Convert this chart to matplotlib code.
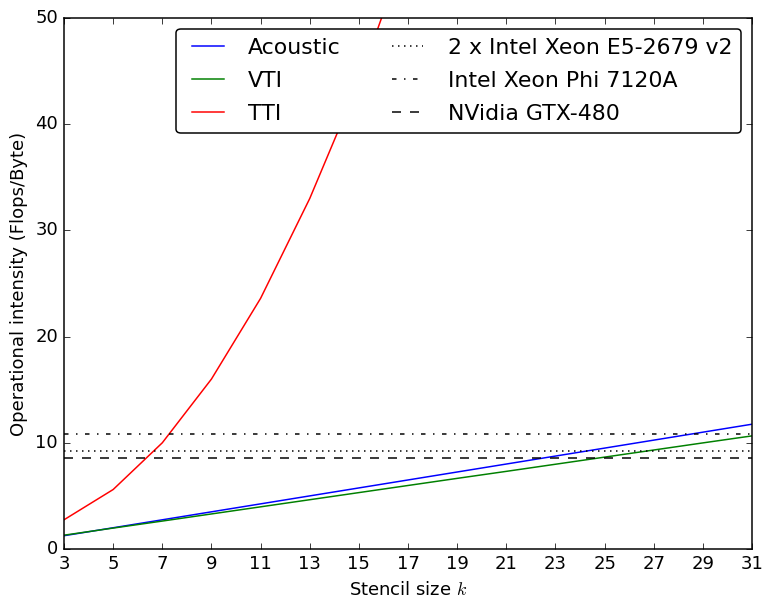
import numpy as np
import matplotlib
matplotlib.use('Agg')
import matplotlib.pyplot as plt

plt.style.use('classic')

# Taille du stencil
k = [3, 5, 7, 9, 11, 13, 15, 17, 19, 21, 23, 25, 27, 29, 31]
k_tti = [3, 5, 7, 9, 11, 13, 15, 17]

# Intensite operationnelle (Flops/Byte)
acoustic = [1.25, 2.0, 2.75, 3.5, 4.25, 5.0, 5.75, 6.5, 7.25, 8.0, 8.75, 9.5, 10.25, 11.0, 11.75]
vti = [1.3, 1.97, 2.63, 3.3, 3.97, 4.64, 5.31, 5.98, 6.65, 7.31, 7.98, 8.65, 9.32, 9.99, 10.65]
tti = [2.75, 5.6, 10.0, 16.0, 23.6, 33.0, 44.0, 57.0]

# Intensite critique des machines
machines = ['2 x Intel Xeon E5-2679 v2', 'Intel Xeon Phi 7120A', 'NVidia GTX-480']
seuils = [9.2, 10.8, 8.55]
styles = [':', '-.', '--']

dpi = 108
fig = plt.figure(figsize=(762 / dpi, 597 / dpi), dpi=dpi)
ax = fig.add_axes([0.084, 0.0804, 0.903, 0.8896])

ax.plot(k, acoustic, 'b-', label='Acoustic')
ax.plot(k, vti, 'g-', label='VTI')
ax.plot(k_tti, tti, 'r-', label='TTI')
for nom, s, ls in zip(machines, seuils, styles):
    ax.axhline(s, color='k', linestyle=ls, label=nom)

ax.set_xlim(3, 31)
ax.set_ylim(0, 50)
ax.set_xticks(np.arange(3, 32, 2))
ax.set_xlabel('Stencil size $k$')
ax.set_ylabel('Operational intensity (Flops/Byte)')
ax.legend(loc='upper right', ncol=2, fontsize=14.7, fancybox=True,
          handlelength=2.05, labelspacing=0.6)

fig.savefig('out.png', dpi=dpi, facecolor='white')
